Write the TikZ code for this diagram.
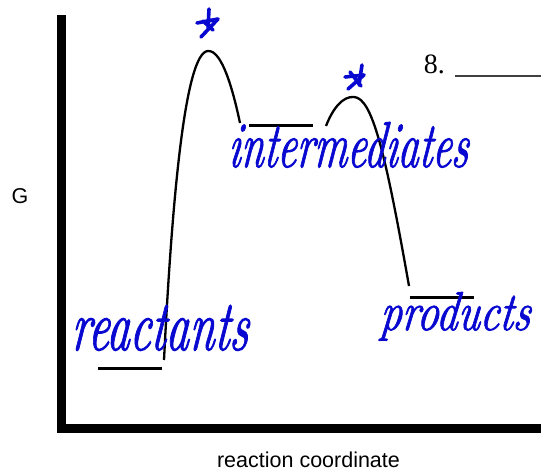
\documentclass[tikz,border=0pt]{standalone}
\usepackage{fontspec}
\usepackage{graphicx}
\setmainfont{Liberation Serif}
\newfontfamily\labsans{Liberation Sans}
\newfontfamily\hand[FakeBold=1.5,FakeSlant=0.15]{lmroman10-italic.otf}
\definecolor{ink}{RGB}{8,8,208}
\begin{document}
\begin{tikzpicture}[x=1pt,y=-1pt,
  level/.style={line width=3pt},
  curve/.style={line width=2.3pt},
  pen/.style={draw=ink,line width=3.6pt,line cap=round,line join=round},
  script/.style={text=ink,inner sep=0pt},
  sans/.style={font=\labsans\fontsize{21.5}{24}\selectfont,inner sep=0pt}]
\useasboundingbox (0,0) rectangle (541,473);
% axes
\draw[line width=9pt,miter limit=10] (61.5,15) -- (61.5,428.8) -- (541,428.8);
% levels
\coordinate (r1) at (98,368); \coordinate (r2) at (162,368);
\coordinate (i1) at (249,126); \coordinate (i2) at (313,126);
\coordinate (p1) at (410,297); \coordinate (p2) at (474,297);
\draw[level] (r1) -- (r2);
\draw[level] (i1) -- (i2);
\draw[level] (p1) -- (p2);
% curves
\coordinate (a0) at (164,360); \coordinate (ts1) at (208,51); \coordinate (a1) at (240,123);
\coordinate (b0) at (326,126); \coordinate (ts2) at (354,97); \coordinate (b1) at (409,286);
\draw[curve] (a0) .. controls (172,200) and (185,52) .. (ts1) .. controls (222,50) and (233,90) .. (a1);
\draw[curve] (b0) .. controls (333,108) and (343,96) .. (ts2) .. controls (372,98) and (385,150) .. (b1);
% stars
\draw[pen] (209,9) -- (208,30) (197,23) -- (218,19) -- (201,37) (203,21) -- (213,30);
\draw[pen] (362,65) -- (359,85) (345,77) -- (364,75) -- (348,89) (350,72) -- (361,86);
% handwritten labels
\node[script,anchor=base west] (tint) at (227,167) {\resizebox{240pt}{45pt}{\hand intermediates}};
\node[script,anchor=base west] (treac) at (70,350) {\resizebox{177pt}{45pt}{\hand reactants}};
\node[script,anchor=base west] (tprod) at (379,330) {\resizebox{150pt}{38pt}{\hand products}};
% number
\node[inner sep=0pt,anchor=base east,font=\fontsize{28}{30}\selectfont] (num) at (445,74) {8.};
\coordinate (u1) at (455,76); \coordinate (u2) at (541,76);
\draw[line width=1.5pt,black!75] (u1) -- (u2);
% axis labels
\node[sans] (G) at (20,196) {G};
\node[sans,anchor=base] (rc) at (308.5,467) {reaction coordinate};
\end{tikzpicture}
\end{document}
